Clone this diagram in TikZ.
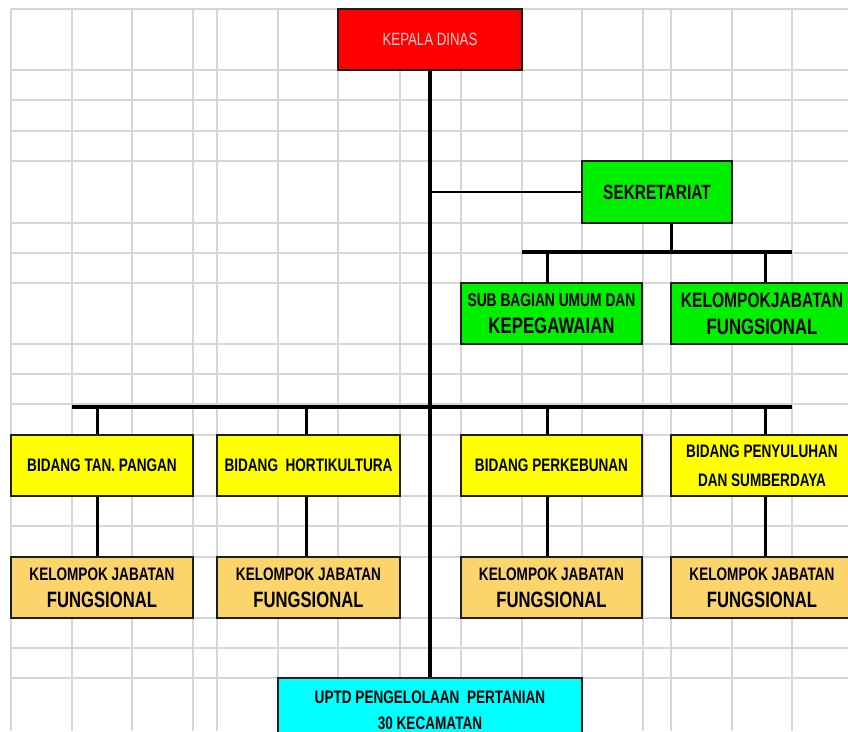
\documentclass[tikz,border=0pt]{standalone}
\usepackage{fontspec}
\setmainfont{Liberation Sans}[FakeStretch=0.75]
\definecolor{gridgray}{HTML}{D6D6D6}
\definecolor{boxline}{HTML}{1E1E1E}
\definecolor{kred}{HTML}{FF0000}
\definecolor{kpink}{HTML}{FFD0D0}
\definecolor{kgreen}{HTML}{00F000}
\definecolor{kyellow}{HTML}{FFFF00}
\definecolor{korange}{HTML}{FCD46C}
\definecolor{kcyan}{HTML}{00FFFF}
\begin{document}
\begin{tikzpicture}[x=1pt,y=-1pt,
  gridline/.style={draw=gridgray, line width=1.2pt},
  box/.style={draw=boxline, line width=1.3pt, inner sep=0pt, align=center,
    text=black, font=\bfseries\fontsize{18.1}{27}\selectfont},
  wide/.style={minimum width=182pt, minimum height=61pt},
  greenbox/.style={box, wide, fill=kgreen},
  yellowbox/.style={box, wide, fill=kyellow},
  orangebox/.style={box, wide, fill=korange},
  mainline/.style={draw=black, line width=3.6pt},
  barline/.style={draw=black, line width=4pt},
  dropline/.style={draw=black, line width=3pt},
  thinline/.style={draw=black, line width=1.5pt}]
\useasboundingbox (0,0) rectangle (848,731);
\clip (0,0) rectangle (848,731);
\fill[white] (0,0) rectangle (848,731);
% spreadsheet grid
\foreach \gx in {11,72,132,193,217,278,338,400,461,522,582,643,671,732,792}
  \draw[gridline] (\gx,9) -- (\gx,731);
\foreach \gy in {9,70,100,131,161,223,253,283,344,374,404,435,496,526,557,618,648,678}
  \draw[gridline] (11,\gy) -- (848,\gy);
% boxes
\node[box, line width=2pt, fill=kred, text=kpink, minimum width=184pt, minimum height=61pt,
  font=\fontsize{17.7}{20}\selectfont] (kepala) at (430,39.5) {KEPALA DINAS};
\node[box, fill=kgreen, minimum width=150pt, minimum height=62pt,
  font=\bfseries\fontsize{20.6}{24}\selectfont] (sek) at (657,192) {SEKRETARIAT};
\node[greenbox, minimum width=181pt] (sub) at (551.5,313.5)
  {{\fontsize{18.4}{26}\selectfont SUB BAGIAN UMUM DAN}\\{\fontsize{22.4}{26}\selectfont KEPEGAWAIAN}};
\node[greenbox] (kjf) at (762,313.5)
  {{\fontsize{20.8}{26}\selectfont KELOMPOKJABATAN}\\{\fontsize{22.3}{26}\selectfont FUNGSIONAL}};
\node[yellowbox] (tan) at (102,465.5) {BIDANG TAN. PANGAN};
\node[yellowbox, minimum width=183pt] (hort) at (308.5,465.5) {BIDANG\ \ HORTIKULTURA};
\node[yellowbox, minimum width=181pt] (perk) at (551.5,465.5) {BIDANG PERKEBUNAN};
\node[yellowbox, font=\bfseries\fontsize{18.1}{29}\selectfont] (peny) at (762,465.5)
  {BIDANG PENYULUHAN\\DAN SUMBERDAYA};
\node[orangebox] (kel1) at (102,587.5)
  {{\fontsize{18.1}{27}\selectfont KELOMPOK JABATAN}\\{\fontsize{22.2}{27}\selectfont FUNGSIONAL}};
\node[orangebox, minimum width=183pt] (kel2) at (308.5,587.5)
  {{\fontsize{18.1}{27}\selectfont KELOMPOK JABATAN}\\{\fontsize{22.2}{27}\selectfont FUNGSIONAL}};
\node[orangebox, minimum width=181pt] (kel3) at (551.5,587.5)
  {{\fontsize{18.1}{27}\selectfont KELOMPOK JABATAN}\\{\fontsize{22.2}{27}\selectfont FUNGSIONAL}};
\node[orangebox] (kel4) at (762,587.5)
  {{\fontsize{18.1}{27}\selectfont KELOMPOK JABATAN}\\{\fontsize{22.2}{27}\selectfont FUNGSIONAL}};
\node[box, fill=kcyan, minimum width=304pt, minimum height=64pt,
  font=\bfseries\fontsize{18.1}{26}\selectfont] (uptd) at (430,710)
  {UPTD PENGELOLAAN\ \ PERTANIAN\\30 KECAMATAN};
% junction points
\coordinate (j1) at (430,192);
\coordinate (sbL) at (522,252);
\coordinate (sbR) at (792,252);
\coordinate (sbd) at (671,252);
\coordinate (mbL) at (72,407);
\coordinate (mbR) at (792,407);
% connectors
\draw[mainline] (kepala.south) -- (uptd.north);
\draw[thinline] (j1) -- (sek.west);
\draw[barline] (sbL) -- (sbR);
\draw[dropline] (sbd) -- (sbd |- sek.south);
\draw[dropline] ([xshift=-4.5pt]sub.north) -- ([xshift=-4.5pt]sub.north |- sbL);
\draw[dropline] ([xshift=3pt]kjf.north) -- ([xshift=3pt]kjf.north |- sbL);
\draw[barline] (mbL) -- (mbR);
\draw[dropline] ([xshift=-5pt]tan.north) -- ([xshift=-5pt]tan.north |- mbL);
\draw[dropline] ([xshift=-2.5pt]hort.north) -- ([xshift=-2.5pt]hort.north |- mbL);
\draw[dropline] ([xshift=-4.5pt]perk.north) -- ([xshift=-4.5pt]perk.north |- mbL);
\draw[dropline] ([xshift=3pt]peny.north) -- ([xshift=3pt]peny.north |- mbL);
\draw[dropline] ([xshift=-5pt]tan.south) -- ([xshift=-5pt]kel1.north);
\draw[dropline] ([xshift=-2.5pt]hort.south) -- ([xshift=-2.5pt]kel2.north);
\draw[dropline] ([xshift=-4.5pt]perk.south) -- ([xshift=-4.5pt]kel3.north);
\draw[dropline] ([xshift=3pt]peny.south) -- ([xshift=3pt]kel4.north);
\end{tikzpicture}
\end{document}
